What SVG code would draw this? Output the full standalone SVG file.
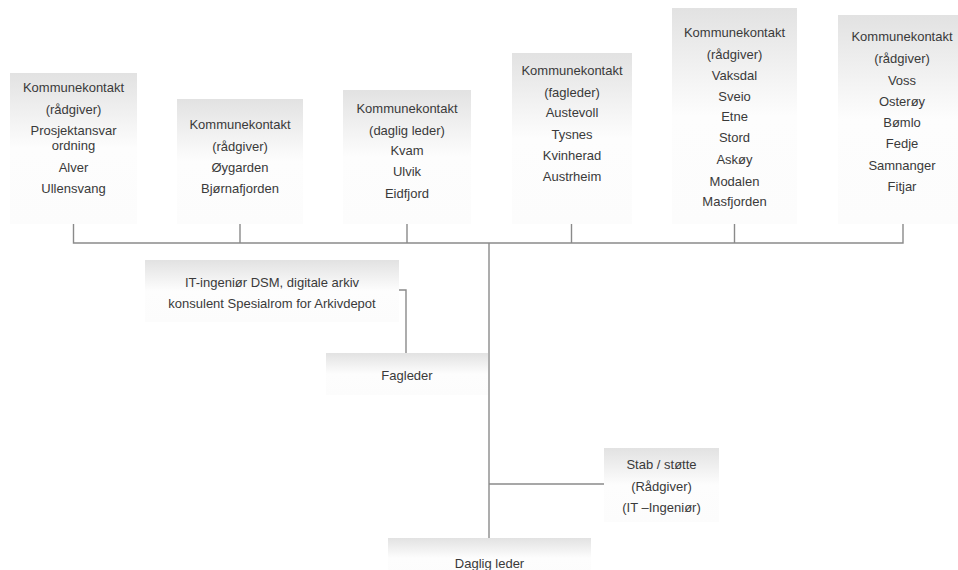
<svg xmlns="http://www.w3.org/2000/svg" width="958" height="570" viewBox="0 0 958 570">
<defs>
<linearGradient id="g" x1="0" y1="0" x2="0" y2="1">
<stop offset="0" stop-color="#e2e2e2"/>
<stop offset="0.5" stop-color="#fdfdfd"/>
<stop offset="1" stop-color="#fcfcfc"/>
</linearGradient>
</defs>
<style>
.box{fill:url(#g);stroke:none}
text{font-family:"Liberation Sans",Arial,sans-serif;font-size:13px;fill:#3a3a3a;text-anchor:middle}
.c{fill:none;stroke:#8a8a8a;stroke-width:1.4}
</style>
<rect width="958" height="570" fill="#ffffff"/>
<g id="connectors">
<path class="c" d="M73.5,224V243H903V224"/>
<path class="c" d="M240,224V243M407,224V243M571.5,224V243M734.5,224V243"/>
<path class="c" d="M489,243V538"/>
<path class="c" d="M489,484H604"/>
<path class="c" d="M399,290H406V353"/>
</g>
<g id="n1">
<rect class="box" x="10" y="73" width="127" height="151"/>
<text x="73.5" y="91.8">Kommunekontakt</text>
<text x="73.5" y="113.8">(rådgiver)</text>
<text x="73.5" y="135.2">Prosjektansvar</text>
<text x="73.5" y="149.5">ordning</text>
<text x="73.5" y="171.8">Alver</text>
<text x="73.5" y="192.8">Ullensvang</text>
</g>
<g id="n2">
<rect class="box" x="177" y="99" width="126" height="125"/>
<text x="240" y="128.5">Kommunekontakt</text>
<text x="240" y="150.5">(rådgiver)</text>
<text x="240" y="171.8">Øygarden</text>
<text x="240" y="192.8">Bjørnafjorden</text>
</g>
<g id="n3">
<rect class="box" x="343" y="90" width="128" height="134"/>
<text x="407" y="112.8">Kommunekontakt</text>
<text x="407" y="134.5">(daglig leder)</text>
<text x="407" y="155.3">Kvam</text>
<text x="407" y="176.3">Ulvik</text>
<text x="407" y="197.8">Eidfjord</text>
</g>
<g id="n4">
<rect class="box" x="512" y="53" width="120" height="171"/>
<text x="572" y="74.5">Kommunekontakt</text>
<text x="572" y="96.8">(fagleder)</text>
<text x="572" y="117.2">Austevoll</text>
<text x="572" y="138.5">Tysnes</text>
<text x="572" y="159.5">Kvinherad</text>
<text x="572" y="181.2">Austrheim</text>
</g>
<g id="n5">
<rect class="box" x="672" y="8" width="125" height="216"/>
<text x="734.5" y="36.8">Kommunekontakt</text>
<text x="734.5" y="58.5">(rådgiver)</text>
<text x="734.5" y="79.5">Vaksdal</text>
<text x="734.5" y="100.5">Sveio</text>
<text x="734.5" y="121.2">Etne</text>
<text x="734.5" y="141.8">Stord</text>
<text x="734.5" y="163.8">Askøy</text>
<text x="734.5" y="186.2">Modalen</text>
<text x="734.5" y="206.2">Masfjorden</text>
</g>
<g id="n6">
<rect class="box" x="838" y="15" width="130" height="209"/>
<text x="902" y="41.2">Kommunekontakt</text>
<text x="902" y="62.8">(rådgiver)</text>
<text x="902" y="85.2">Voss</text>
<text x="902" y="106.2">Osterøy</text>
<text x="902" y="127.2">Bømlo</text>
<text x="902" y="147.8">Fedje</text>
<text x="902" y="169.5">Samnanger</text>
<text x="902" y="190.5">Fitjar</text>
</g>
<g id="it">
<rect class="box" x="145" y="260" width="254" height="62"/>
<text x="272" y="286.8">IT-ingeniør DSM, digitale arkiv</text>
<text x="272" y="307.8">konsulent Spesialrom for Arkivdepot</text>
</g>
<g id="fagleder">
<rect class="box" x="326" y="353" width="162" height="42"/>
<text x="407" y="379.5">Fagleder</text>
</g>
<g id="stab">
<rect class="box" x="604" y="448" width="115" height="74"/>
<text x="661.5" y="468.5">Stab / støtte</text>
<text x="661.5" y="490.5">(Rådgiver)</text>
<text x="661.5" y="511.5">(IT –Ingeniør)</text>
</g>
<g id="daglig">
<rect class="box" x="388" y="538" width="203" height="40"/>
<text x="489.5" y="567.5">Daglig leder</text>
</g>
</svg>
